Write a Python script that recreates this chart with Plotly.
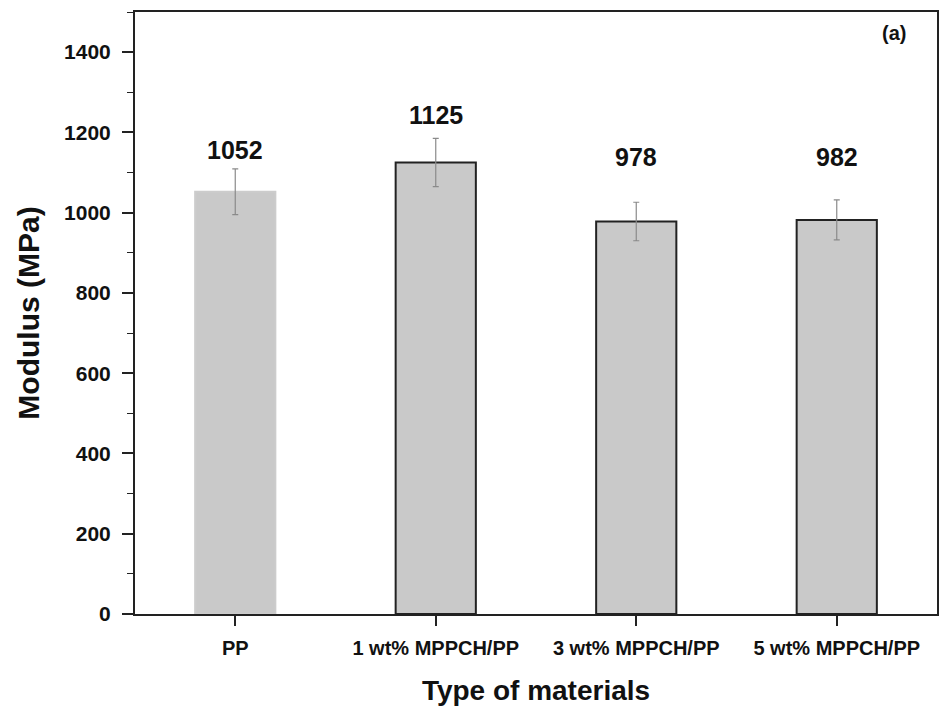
import plotly.graph_objects as go

categories = ["PP", "1 wt% MPPCH/PP", "3 wt% MPPCH/PP", "5 wt% MPPCH/PP"]
modulus = [1052, 1125, 978, 982]
errors = [57, 60, 48, 50]
value_labels = ["1052", "1125", "978", "982"]
label_y = [1156, 1243, 1138, 1138]
y_ticks = [0, 200, 400, 600, 800, 1000, 1200, 1400]

FONT = "Liberation Sans"
fig = go.Figure()
fig.add_trace(go.Bar(
    x=list(range(len(categories))), y=modulus, width=0.4,
    marker=dict(color="#c9c9c9",
                line=dict(color=["#cccccc", "#222222", "#222222", "#222222"], width=2)),
    error_y=dict(type="data", array=errors, color="#8a8a8a", thickness=1.2, width=3),
    showlegend=False,
))
for i, (t, yv) in enumerate(zip(value_labels, label_y)):
    fig.add_annotation(x=i, y=yv, text="<b>%s</b>" % t, showarrow=False,
                       font=dict(family=FONT, size=25, color="#111111"),
                       xref="x", yref="y")
fig.add_annotation(x=0.947, y=0.965, xref="paper", yref="paper", text="<b>(a)</b>",
                   xanchor="center", yanchor="middle",
                   showarrow=False, font=dict(family=FONT, size=20, color="#111111"))

fig.update_layout(
    width=949, height=713,
    margin=dict(l=135, r=10, t=12, b=99),
    paper_bgcolor="white", plot_bgcolor="white",
    font=dict(family=FONT, color="#111111"),
    xaxis=dict(range=[-0.5, 3.5], tickmode="array", tickvals=list(range(len(categories))),
               ticktext=["<b>%s</b>" % c for c in categories],
               tickfont=dict(size=20), ticks="outside", ticklen=10, tickwidth=1.5,
               tickcolor="#222222", ticklabelstandoff=5,
               showline=True, linecolor="#222222", linewidth=2, mirror=True,
               showgrid=False, zeroline=False,
               title=dict(text="<b>Type of materials</b>", font=dict(size=28), standoff=22)),
    yaxis=dict(range=[0, 1500], tickvals=y_ticks,
               ticktext=["<b>%d</b>" % v for v in y_ticks],
               tickfont=dict(size=21), ticks="outside", ticklen=11, tickwidth=1.5,
               tickcolor="#222222", ticklabelstandoff=7,
               minor=dict(dtick=100, ticks="outside", ticklen=6, tickcolor="#222222", tickwidth=1.2),
               showline=True, linecolor="#222222", linewidth=2, mirror=True,
               showgrid=False, zeroline=False,
               title=dict(text="<b>Modulus (MPa)</b>", font=dict(size=30), standoff=16)),
)
fig.write_html("out.html")
